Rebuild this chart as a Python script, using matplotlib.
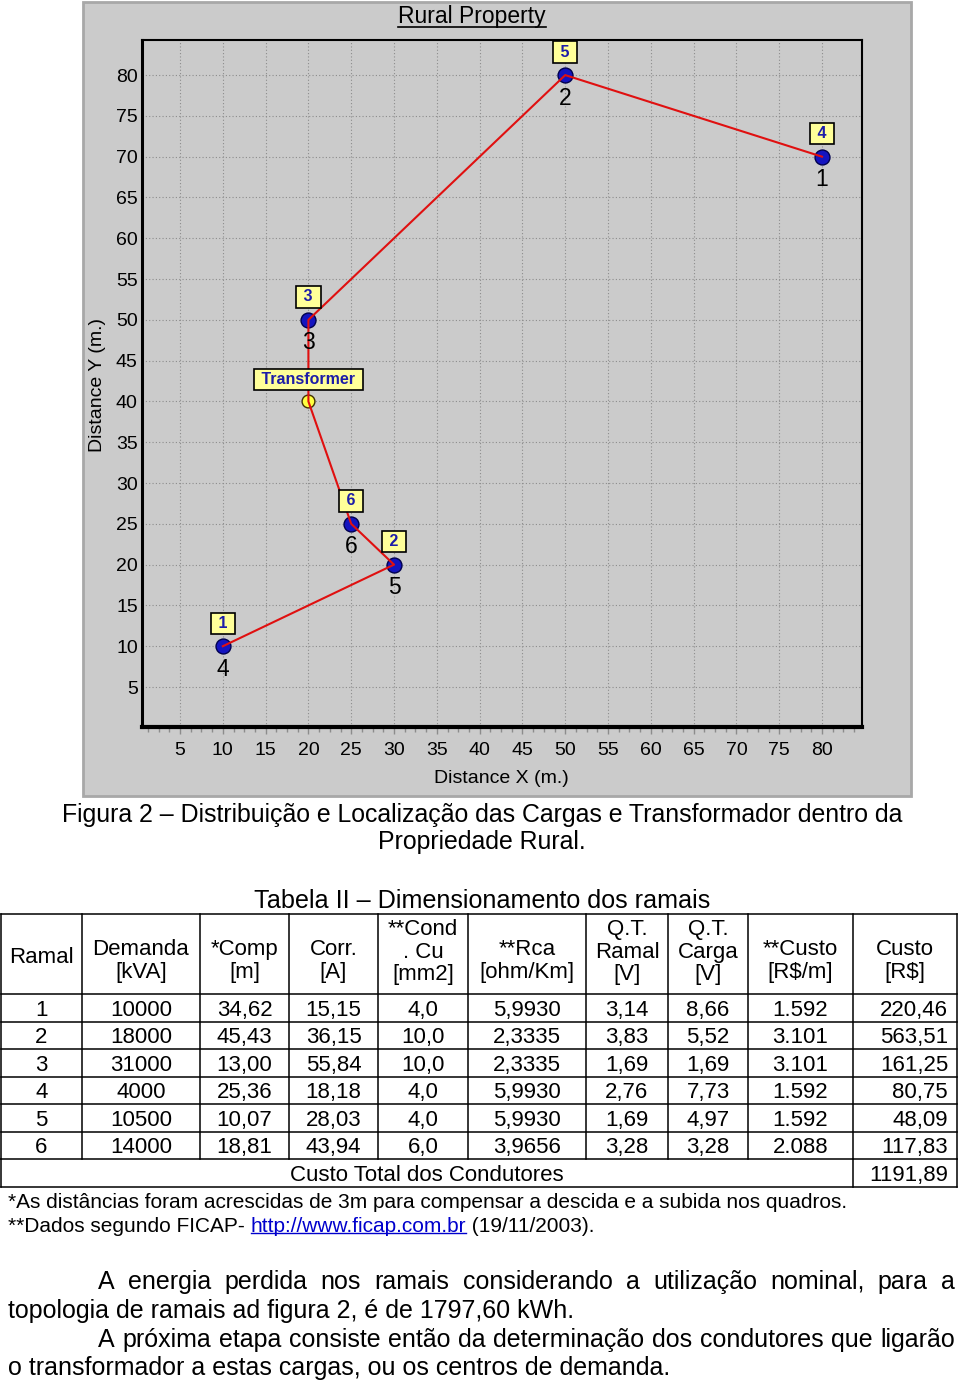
import matplotlib
matplotlib.use('Agg')
import matplotlib.pyplot as plt
from matplotlib.patches import Rectangle
from matplotlib.ticker import MultipleLocator

plt.rcParams['font.family'] = ['Liberation Sans', 'DejaVu Sans']

# ---- chart data ----
route_x = [10, 30, 25, 20, 20, 50, 80]
route_y = [10, 20, 25, 40, 50, 80, 70]
load_num = [1, 2, 3, 4, 5, 6]
load_x = [80, 50, 20, 10, 30, 25]
load_y = [70, 80, 50, 10, 20, 25]
load_ramal = [4, 5, 3, 1, 2, 6]
trafo_x, trafo_y = 20, 40
x_ticks = list(range(5, 85, 5))
y_ticks = list(range(5, 85, 5))

# ---- table data ----
headers = ["Ramal", "Demanda\n[kVA]", "*Comp\n[m]", "Corr.\n[A]", "**Cond\n. Cu\n[mm2]",
           "**Rca\n[ohm/Km]", "Q.T.\nRamal\n[V]", "Q.T.\nCarga\n[V]", "**Custo\n[R$/m]", "Custo\n[R$]"]
ramal = [1, 2, 3, 4, 5, 6]
demanda = [10000, 18000, 31000, 4000, 10500, 14000]
comp = [34.62, 45.43, 13.00, 25.36, 10.07, 18.81]
corr = [15.15, 36.15, 55.84, 18.18, 28.03, 43.94]
cond = [4.0, 10.0, 10.0, 4.0, 4.0, 6.0]
rca = [5.9930, 2.3335, 2.3335, 5.9930, 5.9930, 3.9656]
qt_ramal = [3.14, 3.83, 1.69, 2.76, 1.69, 3.28]
qt_carga = [8.66, 5.52, 1.69, 7.73, 4.97, 3.28]
custo_m = [1592, 3101, 3101, 1592, 1592, 2088]
custo = [220.46, 563.51, 161.25, 80.75, 48.09, 117.83]
custo_total = 1191.89


def br(v, d):
    return f"{v:.{d}f}".replace('.', ',')


def milhar(v):
    return f"{v:,d}".replace(',', '.')


W, H = 960, 1382
fig = plt.figure(figsize=(W / 100, H / 100), dpi=100)
fig.patch.set_facecolor('white')
page = fig.add_axes([0, 0, 1, 1])
page.set_xlim(0, W)
page.set_ylim(H, 0)
page.axis('off')
rend = fig.canvas.get_renderer()


def box(l, t, r, b):
    return [l / W, 1 - b / H, (r - l) / W, (b - t) / H]


def put(x, yc, s, size, ha='center', **kw):
    # yc = visual centre of capitals, in page pixels
    return page.text(x, yc + 0.36 * size / 0.72, s, fontsize=size, ha=ha,
                     va='baseline', **kw)


def wpx(t):
    return t.get_window_extent(rend).width


def fit_size(s, w):
    t = page.text(0, 0, s, fontsize=10)
    k = w / wpx(t)
    t.remove()
    return 10 * k


# ---- chart panel ----
page.add_patch(Rectangle((83, 2), 828, 794, facecolor='#cbcbcb',
                         edgecolor='#a8a8a8', lw=2, zorder=0))

ax = fig.add_axes(box(142, 40, 862, 727))
ax.set_facecolor('#cbcbcb')
ax.set_xlim(0.56, 84.67)
ax.set_ylim(0.1, 84.3)
ax.set_xticks(x_ticks)
ax.set_yticks(y_ticks)
ax.xaxis.set_minor_locator(MultipleLocator(1.25))
ax.set_axisbelow(True)
ax.grid(True, which='major', color='#8c8c8c', linestyle=(0, (1, 2)), linewidth=0.8)
ax.tick_params(axis='x', which='major', direction='out', length=5, width=1,
               color='#8c8c8c', pad=6, labelsize=14)
ax.tick_params(axis='x', which='minor', direction='out', length=3.5, width=1,
               color='#8c8c8c')
ax.tick_params(axis='y', length=0, pad=3, labelsize=14)
for side, lw in [('left', 2.2), ('bottom', 3), ('top', 1.5), ('right', 1.5)]:
    ax.spines[side].set_linewidth(lw)

ax.scatter(load_x, load_y, s=115, c='#1414c0', edgecolors='#000050',
           linewidths=1, zorder=3)
ax.scatter([trafo_x], [trafo_y], s=85, c='#ffff40', edgecolors='#403000',
           linewidths=1, zorder=3)
ax.plot(route_x, route_y, color='#e01010', lw=1.5, zorder=4)

tag = dict(boxstyle='square,pad=0.2', fc='#ffff99', ec='black', lw=1.2)
for n, x, y, r in zip(load_num, load_x, load_y, load_ramal):
    ax.annotate(f' {r} ', (x, y), xytext=(0, 16.5), textcoords='offset points',
                ha='center', va='center', fontsize=11.5, fontweight='bold',
                color='#1c1ca8', bbox=tag, zorder=5)
    ax.annotate(str(n), (x, y), xytext=(0, -16.5), textcoords='offset points',
                ha='center', va='center', fontsize=16.5, zorder=5)
ax.annotate(' Transformer ', (trafo_x, trafo_y), xytext=(0, 16),
            textcoords='offset points', ha='center', va='center', fontsize=11.5,
            fontweight='bold', color='#1c1ca8', bbox=tag, zorder=5)

# panel texts
tt = put(472, 15, 'Rural Property', 16.5)
bb = tt.get_window_extent(rend)
page.plot([bb.x0, bb.x1], [27, 27], color='black', lw=1.2)
put(501, 776, 'Distance X (m.)', 14)
page.text(98, 385, 'Distance Y (m.)', fontsize=14, rotation=90, ha='center', va='center')

# ---- caption ----
cap1 = "Figura 2 – Distribuição e Localização das Cargas e Transformador dentro da"
fs_cap = fit_size(cap1, 850)
put(482, 813, cap1, fs_cap)
put(482, 840, "Propriedade Rural.", fs_cap)

# ---- table ----
tit = "Tabela II – Dimensionamento dos ramais"
put(482, 899, tit, fit_size(tit, 456))

col_edges = [1, 82, 200, 289, 378, 468, 586, 668, 748, 853, 957]
head_top, head_bot, row_h = 914, 994, 27.5
n_rows = len(ramal)
row_lines = [head_top, head_bot] + [head_bot + row_h * (i + 1) for i in range(n_rows + 1)]
for y in row_lines:
    page.plot([col_edges[0], col_edges[-1]], [y, y], color='black', lw=1.1, zorder=3)
data_bot = head_bot + row_h * n_rows
for x in col_edges:
    page.plot([x, x], [head_top, data_bot], color='black', lw=1.1, zorder=3)
for x in [col_edges[0], col_edges[-2], col_edges[-1]]:
    page.plot([x, x], [data_bot, row_lines[-1]], color='black', lw=1.1, zorder=3)

fs_tab = 16
hdr_mid = {1: 954.5, 2: 958.5, 3: 949.5}
for j, h in enumerate(headers):
    lines = h.split('\n')
    xc = (col_edges[j] + col_edges[j + 1]) / 2
    for i, ln in enumerate(lines):
        put(xc, hdr_mid[len(lines)] + (i - (len(lines) - 1) / 2) * 22.75, ln, fs_tab)

cols = [[str(v) for v in ramal], [str(v) for v in demanda], [br(v, 2) for v in comp],
        [br(v, 2) for v in corr], [br(v, 1) for v in cond], [br(v, 4) for v in rca],
        [br(v, 2) for v in qt_ramal], [br(v, 2) for v in qt_carga],
        [milhar(v) for v in custo_m], [br(v, 2) for v in custo]]
for j, col in enumerate(cols):
    xc = (col_edges[j] + col_edges[j + 1]) / 2
    for i, s in enumerate(col):
        yc = head_bot + row_h * (i + 0.5)
        if j == len(cols) - 1:
            put(col_edges[-1] - 9, yc, s, fs_tab, ha='right')
        else:
            put(xc, yc, s, fs_tab)
yt = data_bot + row_h / 2
put((col_edges[0] + col_edges[-2]) / 2, yt, "Custo Total dos Condutores", fs_tab)
put(col_edges[-1] - 9, yt, br(custo_total, 2), fs_tab, ha='right')

# ---- footnotes ----
fn1 = "*As distâncias foram acrescidas de 3m para compensar a descida e a subida nos quadros."
fs_fn = fit_size(fn1, 843)
put(8, 1200, fn1, fs_fn, ha='left')
parts = [("**Dados segundo FICAP- ", 'black'), ("http://www.ficap.com.br", '#0000cc'),
         (" (19/11/2003).", 'black')]
x = 8
for s, c in parts:
    t = put(x, 1224, s, fs_fn, ha='left', color=c)
    w = wpx(t)
    if c != 'black':
        page.plot([x, x + w], [1233, 1233], color=c, lw=1)
    x += w

# ---- paragraph ----
para = [("A energia perdida nos ramais considerando a utilização nominal, para a", 98, 955, True),
        ("topologia de ramais ad figura 2, é de 1797,60 kWh.", 8, None, False),
        ("A próxima etapa consiste então da determinação dos condutores que ligarão", 98, 955, True),
        ("o transformador a estas cargas, ou os centros de demanda.", 8, None, False)]
fs_p = fit_size(para[1][0], 568)
for k, (s, x0, x1, just) in enumerate(para):
    yc = 1280 + k * 28.8
    if not just:
        put(x0, yc, s, fs_p, ha='left')
        continue
    words = s.split(' ')
    ts = [put(0, yc, w, fs_p, ha='left') for w in words]
    ws = [wpx(t) for t in ts]
    gap = (x1 - x0 - sum(ws)) / (len(ws) - 1)
    xx = x0
    for t, w in zip(ts, ws):
        t.set_x(xx)
        xx += w + gap

fig.savefig('out.png', dpi=100, facecolor='white')
